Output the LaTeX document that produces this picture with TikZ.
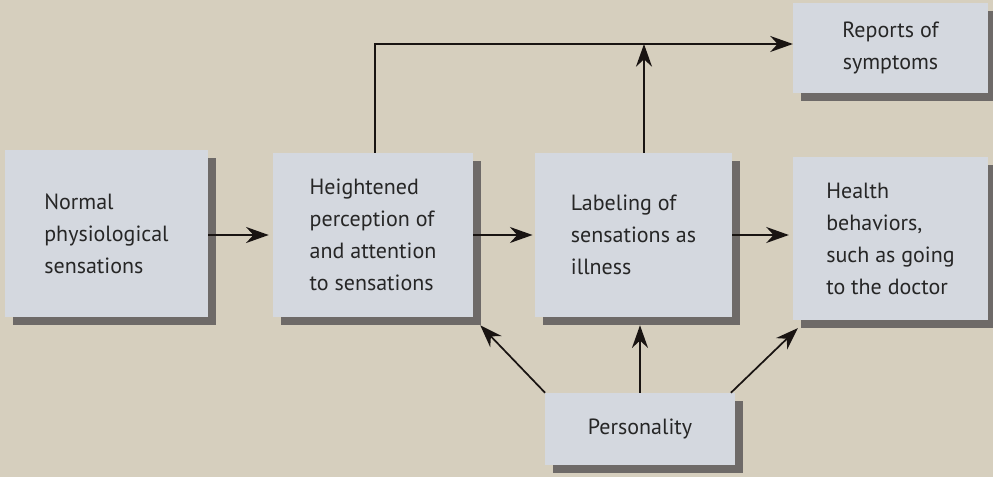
\documentclass[tikz,border=0pt]{standalone}
\usepackage{fontspec}
\setmainfont{PT Sans}
\usetikzlibrary{arrows.meta,shadows,calc}

\definecolor{pagebg}{RGB}{214,207,190}
\definecolor{boxfill}{RGB}{212,216,223}
\definecolor{shadowgray}{RGB}{110,106,104}
\definecolor{inkgray}{RGB}{38,38,38}
\definecolor{inkblack}{RGB}{25,20,18}

\begin{document}
\begin{tikzpicture}[x=0.75pt,y=0.75pt,yscale=-1,xscale=1,
  box/.style={fill=boxfill, text=inkgray, inner sep=0.75pt, align=left,
    font=\fontsize{16.5}{24}\selectfont,
    drop shadow={shadow xshift=6pt, shadow yshift=-6pt, fill=shadowgray, opacity=1}},
  arr/.style={draw=inkblack, line width=1.3pt, -{Stealth[length=17pt,width=12pt,inset=5.5pt]}}]
%set diagram left start at 0, and has height of 477
\fill[pagebg, use as bounding box] (0,0) rectangle (993,477);
\clip (0,0) rectangle (993,477);

%Shape: Rectangle [id:normal]
\node (normal) [box, minimum width=152pt, minimum height=125pt] at (106.5,233.5) {Normal\\physiological\\sensations};
%Shape: Rectangle [id:heightened]
\node (heightened) [box, minimum width=150pt, minimum height=123pt] at (373,235) {Heightened\\perception of\\and attention\\to sensations};
%Shape: Rectangle [id:labeling]
\node (labeling) [box, minimum width=148pt, minimum height=123pt] at (633.5,235) {Labeling of\\sensations as\\illness};
%Shape: Rectangle [id:health]
\node (health) [box, minimum width=146pt, minimum height=122pt] at (890.5,238.5) {Health\\behaviors,\\such as going\\to the doctor};
%Shape: Rectangle [id:reports]
\node (reports) [box, align=center, minimum width=146pt, minimum height=68pt] at (890.5,48) {Reports of\\symptoms};
%Shape: Rectangle [id:personality]
\node (personality) [box, minimum width=142pt, minimum height=54pt] at (640,429) {Personality};

%Straight Lines [id:main chain]
\draw [arr, shorten >=3pt] (normal.east |- heightened.west) -- (heightened.west);
\draw [arr, shorten >=1.5pt] (heightened.east) -- (labeling.west);
\draw [arr, shorten >=3pt] (labeling.east) -- (labeling.east -| health.west);

%Straight Lines [id:to reports]
\coordinate (topbend) at (375,44);
\draw [arr] (heightened.north -| topbend) -- (topbend) -- (topbend -| reports.west);
\coordinate (labtop) at ($(labeling.north)+(10.5,0)$);
\draw [arr] (labtop) -- (labtop |- topbend);

%Straight Lines [id:from personality]
\coordinate (labshadow) at ($(labeling.south)+(0,8)$);
\draw [arr] (personality.north west) -- ($(heightened.south east)+(7,8)$);
\draw [arr] (personality.north) -- (personality.north |- labshadow);
\draw [arr] ([xshift=-3pt]personality.north east) -- ($(health.south west)+(5,8)$);
\end{tikzpicture}
\end{document}
